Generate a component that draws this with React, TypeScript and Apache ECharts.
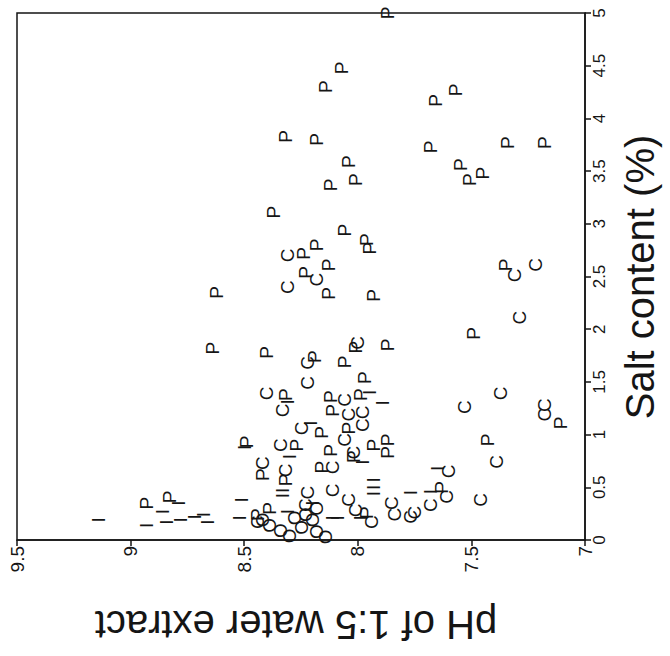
import React, { useEffect, useRef } from "react";
import * as echarts from "echarts";

// [pH, salt %]
const pPoints: [number, number][] = [
  [7.87, 5.0], [8.07, 4.48], [8.14, 4.3], [8.32, 3.83], [8.18, 3.8], [8.12, 3.37],
  [8.37, 3.11], [8.18, 2.8], [8.24, 2.72], [8.13, 2.61], [8.23, 2.54], [8.62, 2.35],
  [8.13, 2.34], [7.66, 4.17], [7.57, 4.27], [7.68, 3.73], [7.34, 3.77], [7.18, 3.77],
  [8.04, 3.59], [8.01, 3.42], [7.55, 3.56], [7.51, 3.42], [7.45, 3.48], [8.06, 2.94],
  [7.96, 2.85], [7.95, 2.77], [7.35, 2.61], [7.93, 2.32], [7.49, 1.96], [7.87, 1.85],
  [8.06, 1.69], [8.01, 1.83], [7.97, 1.54], [7.99, 1.38], [7.11, 1.11], [7.43, 0.95],
  [7.63, 0.5], [8.04, 1.06], [7.93, 0.9], [7.87, 0.95], [7.87, 0.83], [8.02, 0.79],
  [7.96, 0.26], [8.64, 1.82], [8.4, 1.78], [8.19, 1.74], [8.32, 1.38], [8.12, 1.36],
  [8.11, 1.23], [8.16, 1.02], [8.49, 0.93], [8.27, 0.9], [8.12, 0.85], [8.42, 0.62],
  [8.16, 0.69], [8.32, 0.57], [8.44, 0.24], [8.39, 0.3], [8.93, 0.35], [8.83, 0.41],
];

const cPoints: [number, number][] = [
  [8.31, 2.7], [8.18, 2.47], [8.31, 2.4], [7.22, 2.61], [7.31, 2.51], [7.29, 2.11],
  [8.0, 1.87], [7.53, 1.26], [7.37, 1.39], [7.18, 1.28], [7.18, 1.19], [7.39, 0.74],
  [7.46, 0.38], [7.6, 0.65], [7.61, 0.41], [7.68, 0.33], [7.75, 0.26], [7.77, 0.22],
  [7.85, 0.35], [7.84, 0.24], [8.06, 1.33], [8.04, 1.19], [7.98, 1.21], [7.98, 1.09],
  [8.06, 0.95], [8.02, 0.83], [8.11, 0.69], [8.04, 0.38], [8.01, 0.28], [7.94, 0.17],
  [8.22, 1.68], [8.22, 1.49], [8.4, 1.39], [8.33, 1.23], [8.25, 1.06], [8.34, 0.9],
  [8.42, 0.73], [8.32, 0.66], [8.11, 0.47], [8.22, 0.45], [8.23, 0.33], [8.44, 0.17],
];

const oPoints: [number, number][] = [
  [8.34, 0.09], [8.3, 0.04], [8.25, 0.12], [8.2, 0.19], [8.18, 0.08], [8.14, 0.03],
  [8.23, 0.24], [8.18, 0.3], [8.28, 0.21], [8.39, 0.14], [8.42, 0.19],
];

const iPoints: [number, number][] = [
  [9.14, 0.19], [8.93, 0.14], [8.86, 0.27], [8.84, 0.17], [8.78, 0.19], [8.72, 0.22],
  [8.68, 0.24], [8.66, 0.17], [8.79, 0.35], [8.51, 0.38], [8.52, 0.21], [8.5, 0.88],
  [8.31, 1.31], [8.3, 0.79], [8.33, 0.47], [8.33, 0.42], [8.2, 0.35], [8.31, 0.27],
  [8.11, 0.21], [8.21, 1.11], [7.95, 1.4], [7.89, 1.3], [7.93, 0.57], [7.93, 0.5],
  [7.93, 0.44], [8.09, 0.21], [7.99, 0.21], [7.65, 0.68], [7.68, 0.46], [7.77, 0.45],
  [7.98, 0.74],
];

const xTicks = { min: 7, max: 9.5, interval: 0.5 };
const yTicks = { min: 0, max: 5, interval: 0.5 };

const FONT = "'Liberation Sans', Arial, Helvetica, sans-serif";
const INK = "#151515";

function letterSeries(letter: string, data: [number, number][]) {
  return {
    type: "custom",
    name: letter,
    data,
    clip: false,
    renderItem: (_params: any, api: any) => {
      const pt = api.coord([api.value(0), api.value(1)]);
      return {
        type: "text",
        x: pt[0],
        y: pt[1],
        rotation: Math.PI / 2,
        style: {
          text: letter,
          fontSize: 19,
          fontFamily: FONT,
          fill: INK,
          align: "center",
          verticalAlign: "middle",
        },
      };
    },
  };
}

export default function App() {
  const ref = useRef<HTMLDivElement>(null);
  useEffect(() => {
    if (!ref.current) return;
    const chart = echarts.init(ref.current, undefined, { renderer: "svg" });
    chart.setOption({
      animation: false,
      backgroundColor: "#fff",
      grid: {
        left: 17,
        right: 85,
        top: 13,
        bottom: 116,
        show: true,
        borderColor: INK,
        borderWidth: 1.5,
      },
      xAxis: {
        type: "value",
        inverse: true,
        min: xTicks.min,
        max: xTicks.max,
        interval: xTicks.interval,
        position: "bottom",
        axisLine: { show: true, lineStyle: { color: INK, width: 1.5 } },
        axisTick: { show: true, inside: false, length: 6, lineStyle: { color: INK, width: 1.5 } },
        axisLabel: { rotate: 90, fontSize: 19, color: INK, fontFamily: FONT, margin: 6 },
        splitLine: { show: false },
      },
      yAxis: {
        type: "value",
        min: yTicks.min,
        max: yTicks.max,
        interval: yTicks.interval,
        position: "right",
        axisLine: { show: true, lineStyle: { color: INK, width: 1.5 } },
        axisTick: { show: true, inside: false, length: 6, lineStyle: { color: INK, width: 1.5 } },
        axisLabel: { rotate: 90, fontSize: 17, color: INK, fontFamily: FONT, margin: 6 },
        splitLine: { show: false },
      },
      graphic: [
        {
          type: "text",
          x: 296,
          y: 625,
          rotation: Math.PI,
          style: {
            text: "pH of 1:5 water extract",
            fontSize: 40,
            fontFamily: FONT,
            fill: INK,
            align: "center",
            verticalAlign: "middle",
          },
        },
        {
          type: "text",
          x: 640,
          y: 277,
          rotation: Math.PI / 2,
          style: {
            text: "Salt content (%)",
            fontSize: 40,
            fontFamily: FONT,
            fill: INK,
            align: "center",
            verticalAlign: "middle",
          },
        },
      ],
      series: [
        letterSeries("P", pPoints),
        letterSeries("C", cPoints),
        letterSeries("O", oPoints),
        letterSeries("I", iPoints),
      ],
    });
    return () => chart.dispose();
  }, []);
  return (
    <div
      ref={ref}
      style={{ position: "fixed", left: 0, top: 0, width: 670, height: 656, background: "#fff" }}
    />
  );
}
